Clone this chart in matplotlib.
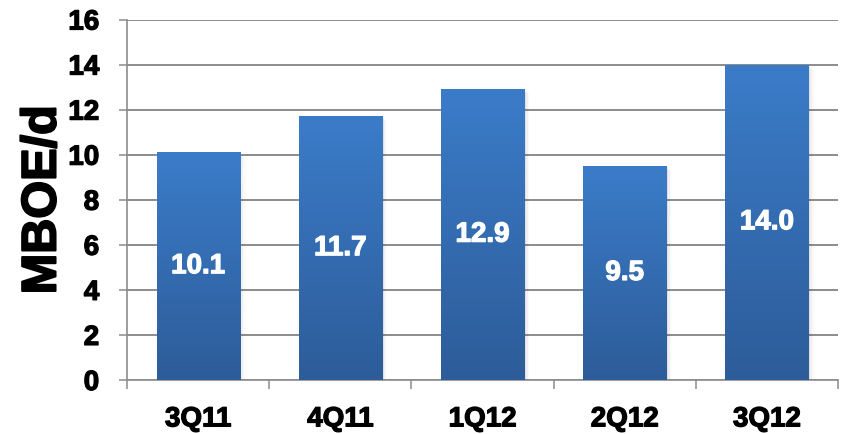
import matplotlib
matplotlib.use("Agg")
import matplotlib.pyplot as plt
import matplotlib.patheffects as pe
import numpy as np
from matplotlib.colors import LinearSegmentedColormap

quarters = ["3Q11", "4Q11", "1Q12", "2Q12", "3Q12"]
production = [10.1, 11.7, 12.9, 9.5, 14.0]
y_ticks = [0, 2, 4, 6, 8, 10, 12, 14, 16]

plt.rcParams["font.family"] = ["Liberation Sans", "DejaVu Sans"]
plt.rcParams["font.weight"] = "bold"

fig = plt.figure(figsize=(8.43, 4.34), dpi=100)
ax = fig.add_axes([127 / 843, 1 - 380 / 434, (838 - 127) / 843, (380 - 19.5) / 434])

grid_col = "#8c8c8c"
x = np.arange(len(quarters))
bar_w = 0.585

def heavy(color, lw):
    return [pe.withStroke(linewidth=lw, foreground=color)]

# soft drop shadow behind each bar
for xi, v in zip(x, production):
    for k, a in enumerate([0.06, 0.04, 0.02]):
        off = 0.012 * (k + 1)
        ax.bar(xi + off, v, width=bar_w, bottom=-0.06 * (k + 1),
               color="black", alpha=a, zorder=2, linewidth=0)

bars = ax.bar(x, production, width=bar_w, color="#356db5", zorder=3, linewidth=0)

# vertical gradient fill: lighter at the top, darker at the base
cmap = LinearSegmentedColormap.from_list("barfill", ["#2d5c99", "#3b7cc9"])
grad = np.linspace(0, 1, 256).reshape(-1, 1)
for b in bars:
    x0, w, h = b.get_x(), b.get_width(), b.get_height()
    im = ax.imshow(grad, cmap=cmap, origin="lower", aspect="auto",
                   extent=[x0, x0 + w, 0, h], zorder=4, interpolation="bicubic")
    im.set_clip_path(b)

for xi, v in zip(x, production):
    ax.text(xi, v / 2, f"{v:.1f}", ha="center", va="center", color="white",
            fontsize=20, fontweight="bold", zorder=5,
            path_effects=heavy("white", 0.9))

ax.set_xlim(-0.5, len(quarters) - 0.5)
ax.set_ylim(0, 16)
ax.set_yticks(y_ticks)
ax.set_yticklabels([str(t) for t in y_ticks], fontsize=20, fontweight="bold")
ax.set_xticks(x)
ax.set_xticklabels(quarters, fontsize=20, fontweight="bold")
ax.set_xticks(np.arange(-0.5, len(quarters)), minor=True)

for lbl in ax.get_xticklabels() + ax.get_yticklabels():
    lbl.set_path_effects(heavy("black", 0.9))

ax.tick_params(axis="x", which="major", length=0, pad=19)
ax.tick_params(axis="x", which="minor", length=6.5, width=1.1, color=grid_col, direction="out")
ax.tick_params(axis="y", length=6, width=1.1, color=grid_col, direction="out", pad=14)

ax.yaxis.grid(True, color=grid_col, linewidth=1.4, zorder=1)
ax.set_axisbelow(True)
for s in ["top", "right"]:
    ax.spines[s].set_visible(False)
for s in ["left", "bottom"]:
    ax.spines[s].set_color(grid_col)
    ax.spines[s].set_linewidth(1.2)

ylab = ax.set_ylabel("MBOE/d", fontsize=35, fontweight="bold", labelpad=2)
ylab.set_path_effects(heavy("black", 1.4))

fig.savefig("out.png", dpi=100)
